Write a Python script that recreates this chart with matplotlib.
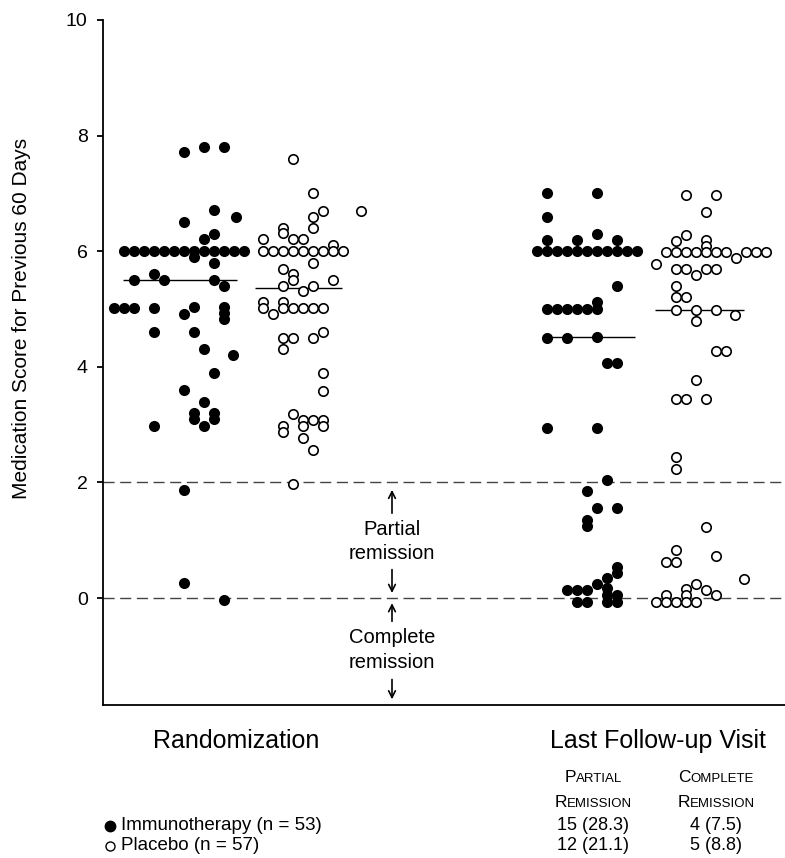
import matplotlib
matplotlib.use("Agg")
import matplotlib.pyplot as plt
import numpy as np

plt.rcParams['font.family'] = ['Liberation Sans', 'DejaVu Sans']

# medication scores; *_col = column slot inside each swarm
rand_imm_y = [7.71, 7.81, 7.81, 6.71, 6.60, 6.50, 6.29, 6.21,
              6.0, 6.0, 6.0, 6.0, 6.0, 6.0, 6.0, 6.0, 6.0, 6.0, 6.0, 6.0, 6.0,
              5.90, 5.80, 5.61, 5.50, 5.50, 5.50, 5.40,
              5.02, 5.02, 5.02, 5.02, 5.03, 5.03,
              4.92, 4.93, 4.83,
              4.61, 4.61, 4.30, 4.20, 3.90, 3.60, 3.40,
              3.20, 3.09, 3.20, 3.09, 2.98, 2.98, 1.87, 0.26, -0.03]
rand_imm_col = [7, 9, 11, 10, 12.2, 7, 10, 9,
                1, 2, 3, 4, 5, 6, 7, 8, 9, 10, 11, 12, 13,
                8, 10, 4, 2, 5, 10, 11,
                0, 1, 2, 4, 8, 11,
                7, 11, 11,
                4, 8, 9, 11.9, 10, 7, 9,
                8, 8, 10, 10, 4, 9, 7, 7, 11]

rand_pla_y = [7.60, 7.01, 6.70, 6.70, 6.59, 6.41, 6.40, 6.31, 6.21, 6.21, 6.21, 6.10,
              6.01, 6.01, 6.01, 6.01, 6.01, 6.01, 6.01, 6.01, 6.01,
              5.80, 5.70, 5.61, 5.50, 5.50, 5.40, 5.40, 5.32,
              5.13, 5.13, 5.01, 5.01, 5.01, 5.01, 5.01, 5.01, 4.91,
              4.60, 4.50, 4.50, 4.50, 4.30, 3.89, 3.59,
              3.18, 3.08, 3.08, 3.08, 2.98, 2.98, 2.98, 2.87, 2.77, 2.56, 1.97]
rand_pla_col = [3, 5, 6, 9.85, 5, 2, 5, 2, 0, 3, 4, 7,
                0, 1, 2, 3, 4, 5, 6, 7, 8,
                5, 2, 3, 3, 7, 2, 5, 4,
                0, 2, 0, 2, 3, 4, 5, 6, 1,
                6, 2, 3, 5, 2, 6, 6,
                3, 4, 5, 6, 2, 4, 6, 2, 4, 5, 3]

fu_imm_y = [7.0, 7.0, 6.6, 6.3, 6.2, 6.2, 6.2,
            6.0, 6.0, 6.0, 6.0, 6.0, 6.0, 6.0, 6.0, 6.0, 6.0, 6.0,
            5.4, 5.12, 5.0, 5.0, 5.0, 5.0, 5.0, 5.0,
            4.5, 4.5, 4.52, 4.07, 4.07, 2.95, 2.95, 2.04,
            1.85, 1.55, 1.55, 1.35, 1.25, 0.54, 0.44, 0.34, 0.25,
            0.14, 0.14, 0.14, 0.17, 0.05, 0.05,
            -0.06, -0.06, -0.06, -0.06]
fu_imm_col = [0, 5, 0, 5, 0, 3, 7,
              -1, 0, 1, 2, 3, 4, 5, 6, 7, 8, 9,
              7, 5, 0, 1, 2, 3, 4, 5,
              0, 2, 5, 6, 7, 0, 5, 6,
              4, 5, 7, 4, 4, 7, 7, 6, 5,
              2, 3, 4, 6, 6, 7,
              3, 4, 6, 7]

fu_pla_y = [6.98, 6.98, 6.67, 6.28, 6.18, 6.19, 6.09,
            5.98, 5.98, 5.98, 5.98, 5.98, 5.98, 5.98, 5.98, 5.98, 5.98, 5.88, 5.78,
            5.69, 5.69, 5.69, 5.69, 5.59, 5.39, 5.21, 5.21,
            4.99, 4.99, 4.99, 4.90, 4.79, 4.27, 4.27, 3.77, 3.45, 3.45, 3.45, 2.44, 2.24,
            1.23, 0.84, 0.73, 0.63, 0.63, 0.33, 0.24, 0.15, 0.14, 0.05, 0.05, 0.05,
            -0.06, -0.06, -0.06, -0.06, -0.06]
fu_pla_col = [2, 5, 4, 2, 1, 4, 4,
              0, 1, 2, 3, 4, 5, 6, 8, 9, 10, 7, -1,
              1, 2, 4, 5, 3, 1, 1, 2,
              1, 3, 5, 6.9, 3, 5, 6, 3, 1, 2, 4, 1, 1,
              4, 1, 5, 0, 1, 7.8, 3, 2, 4, 0, 2, 5,
              -1, 0, 1, 2, 3]

y_ticks = [0, 2, 4, 6, 8, 10]
groups_label = ['Randomization', 'Last Follow-up Visit']
legend_rows = ['Immunotherapy (n = 53)', 'Placebo (n = 57)']
partial_counts = ['15 (28.3)', '12 (21.1)']
complete_counts = ['4 (7.5)', '5 (8.8)']

W, H = 785, 858
fig = plt.figure(figsize=(W / 100, H / 100), dpi=100)
# x data units == figure pixels, so the swarms can be laid out in pixels
ax = fig.add_axes([103 / W, 1 - 705 / H, (W - 103) / W, (705 - 20) / H])
ax.set_xlim(103, W)
ax.set_ylim(-1.85, 10)

for s in ['top', 'right']:
    ax.spines[s].set_visible(False)
for s in ['left', 'bottom']:
    ax.spines[s].set_linewidth(1.3)
ax.set_xticks([])
ax.set_yticks(y_ticks)
ax.tick_params(axis='y', direction='out', length=4, width=1.3, labelsize=14, pad=7)

# remission thresholds
for yv in [2, 0]:
    ax.axhline(yv, color='#444444', lw=1.0, linestyle=(0, (8, 4)), zorder=1)

swarms = [
    (rand_imm_y, rand_imm_col, 114, True, (123, 237)),
    (rand_pla_y, rand_pla_col, 262.5, False, (255, 342)),
    (fu_imm_y, fu_imm_col, 547, True, (543, 635)),
    (fu_pla_y, fu_pla_col, 666, False, (655, 744)),
]
for yv, col, x0, filled, (xa, xb) in swarms:
    xv = x0 + 10 * np.array(col)
    if filled:
        ax.scatter(xv, yv, s=64, color='black', lw=0, zorder=3)
    else:
        ax.scatter(xv, yv, s=46, facecolor='white', edgecolor='black', lw=1.2, zorder=3)
    ax.hlines(np.median(yv), xa, xb, color='black', lw=1.0, zorder=2)

# arrows and remission labels
ap = dict(arrowstyle='->', lw=1.2, color='black', mutation_scale=12)
ax.annotate('', xy=(392, 1.92), xytext=(392, 1.42), arrowprops=ap)
ax.annotate('', xy=(392, 0.04), xytext=(392, 0.54), arrowprops=ap)
ax.annotate('', xy=(392, -0.04), xytext=(392, -0.45), arrowprops=ap)
ax.annotate('', xy=(392, -1.80), xytext=(392, -1.36), arrowprops=ap)
ax.text(392, 0.98, 'Partial\nremission', ha='center', va='center', fontsize=14.5, linespacing=1.35)
ax.text(392, -0.90, 'Complete\nremission', ha='center', va='center', fontsize=14.5, linespacing=1.35)

fig.text(22 / W, 1 - 318 / H, 'Medication Score for Previous 60 Days', rotation=90,
         ha='center', va='center', fontsize=15)

fig.text(236 / W, 1 - 741 / H, groups_label[0], ha='center', va='center', fontsize=18)
fig.text(658 / W, 1 - 741 / H, groups_label[1], ha='center', va='center', fontsize=18)

renderer = fig.canvas.get_renderer()


def small_caps(xc, yb, word, big=12.5, small=9.5):
    t1 = fig.text(0, 0, word[0], fontsize=big, va='baseline')
    t2 = fig.text(0, 0, word[1:].upper(), fontsize=small, va='baseline')
    w1 = t1.get_window_extent(renderer).width
    w2 = t2.get_window_extent(renderer).width
    left = xc - (w1 + w2) / 2
    t1.set_position((left / W, 1 - yb / H))
    t2.set_position(((left + w1) / W, 1 - yb / H))


small_caps(593, 782, 'Partial')
small_caps(593, 807, 'Remission')
small_caps(716, 782, 'Complete')
small_caps(716, 807, 'Remission')

row_y = [826, 846]
for i in range(2):
    yy = 1 - row_y[i] / H
    if i == 0:
        fig.lines.append(plt.Line2D([110 / W], [yy], marker='o', ms=7.5, color='black',
                                    lw=0, transform=fig.transFigure))
    else:
        fig.lines.append(plt.Line2D([110 / W], [yy], marker='o', ms=6.5, mfc='white',
                                    mec='black', mew=1.0, lw=0, transform=fig.transFigure))
    fig.text(121 / W, yy, legend_rows[i], ha='left', va='center', fontsize=13.5)
    fig.text(593 / W, yy, partial_counts[i], ha='center', va='center', fontsize=13)
    fig.text(716 / W, yy, complete_counts[i], ha='center', va='center', fontsize=13)

fig.savefig('out.png', dpi=100)
